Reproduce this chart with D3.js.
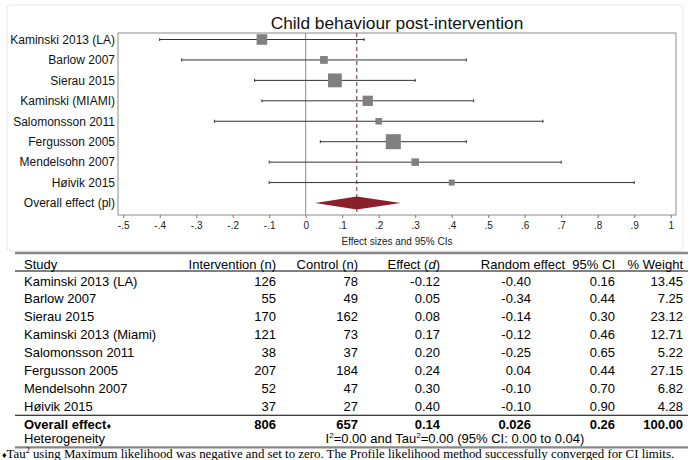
<!DOCTYPE html>
<html>
<head>
<meta charset="utf-8">
<script src="https://cdn.jsdelivr.net/npm/d3@7"></script>
<style>
  body { margin: 0; background: #fff; }
  svg { display: block; font-family: "Liberation Sans", Arial, sans-serif; }
</style>
</head>
<body>
<svg id="chart" width="700" height="460"></svg>
<script>
// forest plot labels (as in the figure) and table labels
var plotLabels = ["Kaminski 2013 (LA)", "Barlow 2007", "Sierau 2015", "Kaminski (MIAMI)",
  "Salomonsson 2011", "Fergusson 2005", "Mendelsohn 2007", "Høivik 2015", "Overall effect (pl)"];
var studies = ["Kaminski 2013 (LA)", "Barlow 2007", "Sierau 2015", "Kaminski 2013 (Miami)",
  "Salomonsson 2011", "Fergusson 2005", "Mendelsohn 2007", "Høivik 2015"];
var intervention = [126, 55, 170, 121, 38, 207, 52, 37];
var control = [78, 49, 162, 73, 37, 184, 47, 27];
var effect = [-0.12, 0.05, 0.08, 0.17, 0.20, 0.24, 0.30, 0.40];
var lower = [-0.40, -0.34, -0.14, -0.12, -0.25, 0.04, -0.10, -0.10];
var upper = [0.16, 0.44, 0.30, 0.46, 0.65, 0.44, 0.70, 0.90];
var weight = [13.45, 7.25, 23.12, 12.71, 5.22, 27.15, 6.82, 4.28];
var overall = {n1: 806, n2: 657, effect: 0.14, lower: 0.026, upper: 0.26, weight: 100.00};
var xTicks = [-0.5, -0.4, -0.3, -0.2, -0.1, 0, 0.1, 0.2, 0.3, 0.4, 0.5, 0.6, 0.7, 0.8, 0.9, 1];

var svg = d3.select("#chart");
var hy = function(s){ return String(s).replace("\u2212", "-"); };

// outer frame of the graph
svg.append("rect")
  .attr("x", 7).attr("y", 5).attr("width", 676).attr("height", 246)
  .attr("rx", 4).attr("fill", "#fff").attr("stroke", "#e6e6e6");

var plot = {left: 118, right: 676, top: 33, bottom: 215};
var x = d3.scaleLinear().domain([-0.5, 1]).range([123.2, 670.7]);
var y = d3.scalePoint().domain(plotLabels).range([39.5, 203]);
var side = d3.scaleSqrt().domain([0, 27.15]).range([0, 15]);

svg.append("text")
  .attr("x", (plot.left + plot.right) / 2).attr("y", 28.5)
  .attr("text-anchor", "middle").attr("font-size", 17.3).attr("fill", "#111")
  .text("Child behaviour post-intervention");

svg.append("rect")
  .attr("x", plot.left).attr("y", plot.top)
  .attr("width", plot.right - plot.left).attr("height", plot.bottom - plot.top)
  .attr("fill", "none").attr("stroke", "#8c8c8c");

// x axis
var xAxis = d3.axisBottom(x).tickValues(xTicks).tickSize(3).tickPadding(4)
  .tickFormat(function(d){
    if (d == 0) return "0";
    if (d == 1) return "1";
    return hy(d3.format(".1f")(d)).replace("0.", ".");
  });
var gx = svg.append("g").attr("transform", "translate(0," + plot.bottom + ")").call(xAxis);
gx.select(".domain").remove();
gx.selectAll(".tick line").attr("stroke", "#777");
gx.selectAll("text").attr("font-size", 10).attr("fill", "#222")
  .attr("font-family", "Liberation Sans, Arial, sans-serif");

svg.append("text")
  .attr("x", (plot.left + plot.right) / 2).attr("y", 245)
  .attr("text-anchor", "middle").attr("font-size", 10).attr("fill", "#222")
  .text("Effect sizes and 95% CIs");

// y labels
svg.selectAll(".ylab")
  .data(plotLabels)
  .enter().append("text")
  .attr("class", "ylab")
  .attr("x", plot.left - 3)
  .attr("y", function(d){ return y(d) + 4.3; })
  .attr("text-anchor", "end").attr("font-size", 12).attr("fill", "#111")
  .text(function(d){ return d; });

// zero line
svg.append("line")
  .attr("x1", x(0)).attr("x2", x(0)).attr("y1", plot.top).attr("y2", plot.bottom)
  .attr("stroke", "#8c8c8c").attr("stroke-width", 1);

// CI lines with caps
var rows = d3.range(studies.length);
svg.selectAll(".ci")
  .data(rows)
  .enter().append("line")
  .attr("class", "ci")
  .attr("x1", function(i){ return x(lower[i]); })
  .attr("x2", function(i){ return x(upper[i]); })
  .attr("y1", function(i){ return y(plotLabels[i]); })
  .attr("y2", function(i){ return y(plotLabels[i]); })
  .attr("stroke", "#333").attr("stroke-width", 1);
[lower, upper].forEach(function(arr){
  svg.selectAll(null)
    .data(rows)
    .enter().append("line")
    .attr("x1", function(i){ return x(arr[i]); })
    .attr("x2", function(i){ return x(arr[i]); })
    .attr("y1", function(i){ return y(plotLabels[i]) - 1.5; })
    .attr("y2", function(i){ return y(plotLabels[i]) + 1.5; })
    .attr("stroke", "#333").attr("stroke-width", 1);
});

// squares
svg.selectAll(".box")
  .data(rows)
  .enter().append("rect")
  .attr("class", "box")
  .attr("x", function(i){ return x(effect[i]) - side(weight[i]) / 2; })
  .attr("y", function(i){ return y(plotLabels[i]) - side(weight[i]) / 2; })
  .attr("width", function(i){ return side(weight[i]); })
  .attr("height", function(i){ return side(weight[i]); })
  .attr("fill", "#808080");

// overall dashed line
svg.append("line")
  .attr("x1", x(overall.effect)).attr("x2", x(overall.effect))
  .attr("y1", plot.top).attr("y2", plot.bottom)
  .attr("stroke", "#6b2a2a").attr("stroke-width", 1).attr("stroke-dasharray", "4,3");

// diamond
var yo = y(plotLabels[8]);
svg.append("path")
  .attr("d", "M" + x(overall.lower) + "," + yo + "L" + x(overall.effect) + "," + (yo - 6.5) +
    "L" + x(overall.upper) + "," + yo + "L" + x(overall.effect) + "," + (yo + 6.5) + "Z")
  .attr("fill", "#8c1f2c");

// ---------- table ----------
var tbl = svg.append("g").attr("font-size", 13).attr("fill", "#000");
var colX = {study: 24, n1: 276, n2: 358, eff: 440, lo: 531, up: 615, w: 683};
var lineL = 15, lineR = 688;
var rowY = d3.scaleLinear().domain([0, 1]).range([281, 298.9]);
var fmt = function(v){ return hy(d3.format(".2f")(v)); };

tbl.append("line").attr("x1", lineL).attr("x2", lineR).attr("y1", 253).attr("y2", 253)
  .attr("stroke", "#888").attr("stroke-width", 2.5);
tbl.append("line").attr("x1", lineL).attr("x2", lineR).attr("y1", 271).attr("y2", 271)
  .attr("stroke", "#000").attr("stroke-width", 1);

var hY = 268.5;
tbl.append("text").attr("x", colX.study).attr("y", hY).text("Study");
tbl.append("text").attr("x", colX.n1).attr("y", hY).attr("text-anchor", "end").text("Intervention (n)");
tbl.append("text").attr("x", colX.n2).attr("y", hY).attr("text-anchor", "end").text("Control (n)");
var eh = tbl.append("text").attr("x", colX.eff).attr("y", hY).attr("text-anchor", "end");
eh.append("tspan").text("Effect (");
eh.append("tspan").attr("font-style", "italic").text("d");
eh.append("tspan").text(")");
tbl.append("text").attr("x", colX.up).attr("y", hY).attr("text-anchor", "end")
  .attr("xml:space", "preserve").text("Random effect  95% CI");
tbl.append("text").attr("x", colX.w).attr("y", hY).attr("text-anchor", "end").text("% Weight");

var cols = [
  {x: colX.n1, v: function(i){ return intervention[i]; }},
  {x: colX.n2, v: function(i){ return control[i]; }},
  {x: colX.eff, v: function(i){ return fmt(effect[i]); }},
  {x: colX.lo, v: function(i){ return fmt(lower[i]); }},
  {x: colX.up, v: function(i){ return fmt(upper[i]); }},
  {x: colX.w, v: function(i){ return fmt(weight[i]); }}
];
tbl.selectAll(".sname")
  .data(studies)
  .enter().append("text")
  .attr("x", colX.study)
  .attr("y", function(d, i){ return rowY(i) + 4.5; })
  .text(function(d){ return d; });
cols.forEach(function(c){
  tbl.selectAll(null)
    .data(rows)
    .enter().append("text")
    .attr("x", c.x)
    .attr("y", function(i){ return rowY(i) + 4.5; })
    .attr("text-anchor", "end")
    .text(c.v);
});

// overall row
tbl.append("line").attr("x1", lineL).attr("x2", lineR).attr("y1", rowY(7.5)).attr("y2", rowY(7.5))
  .attr("stroke", "#000").attr("stroke-width", 1.2);
var oy = rowY(8) + 4.5;
var ot = tbl.append("text").attr("x", colX.study).attr("y", oy).attr("font-weight", "bold");
ot.append("tspan").text("Overall effect");
ot.append("tspan").attr("font-size", 9).text("♦");
var overallVals = [overall.n1, overall.n2, fmt(overall.effect), d3.format(".3f")(overall.lower),
  fmt(overall.upper), fmt(overall.weight)];
[colX.n1, colX.n2, colX.eff, colX.lo, colX.up, colX.w].forEach(function(cx, k){
  tbl.append("text").attr("x", cx).attr("y", oy).attr("text-anchor", "end")
    .attr("font-weight", "bold").text(overallVals[k]);
});

// heterogeneity
var hgy = 442.5;
tbl.append("text").attr("x", colX.study).attr("y", hgy).text("Heterogeneity");
var ht = tbl.append("text").attr("x", 455).attr("y", hgy).attr("text-anchor", "middle");
ht.append("tspan").text("I");
ht.append("tspan").attr("font-size", 8).attr("dy", -5).text("2");
ht.append("tspan").attr("dy", 5).text("=0.00 and Tau");
ht.append("tspan").attr("font-size", 8).attr("dy", -5).text("2");
ht.append("tspan").attr("dy", 5).text("=0.00 (95% CI: 0.00 to 0.04)");

tbl.append("line").attr("x1", lineL).attr("x2", lineR).attr("y1", 447.3).attr("y2", 447.3)
  .attr("stroke", "#888").attr("stroke-width", 2.2);

// footnote
var fn = svg.append("text").attr("x", 2).attr("y", 457.5)
  .attr("font-family", "Liberation Serif, Times New Roman, serif")
  .attr("font-size", 12.85).attr("fill", "#000");
fn.append("tspan").attr("font-size", 9).text("♦");
fn.append("tspan").text("Tau");
fn.append("tspan").attr("font-size", 8).attr("dy", -5).text("2");
fn.append("tspan").attr("dy", 5)
  .text(" using Maximum likelihood was negative and set to zero. The Profile likelihood method successfully converged for CI limits.");
</script>
</body>
</html>
